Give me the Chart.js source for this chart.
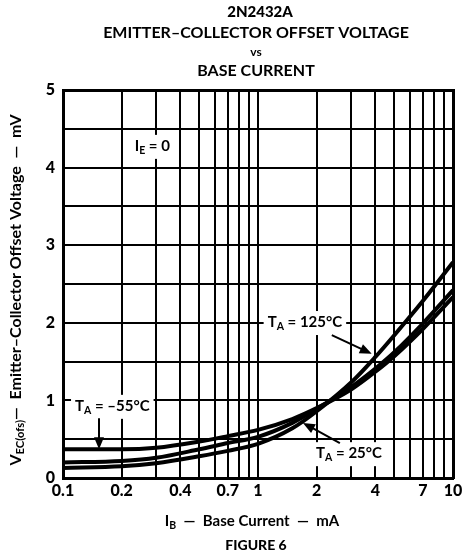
<!DOCTYPE html>
<html>
<head>
<meta charset="utf-8">
<script src="https://cdn.jsdelivr.net/npm/chart.js@4.4.0/dist/chart.umd.min.js"></script>
<style>
  html, body { margin: 0; padding: 0; background: #fff; }
  #wrap { width: 469px; height: 559px; position: relative; }
</style>
</head>
<body>
<div id="wrap"><canvas id="offset"></canvas></div>
<script>
// base current, mA
const currents = [0.1, 0.2, 0.3, 0.5, 0.7, 1, 1.5, 2, 3, 4, 5, 7, 10];
// offset voltage, mV
const vMinus55 = [0.37, 0.37, 0.39, 0.47, 0.54, 0.62, 0.76, 0.90, 1.14, 1.37, 1.57, 1.92, 2.33];
const v25      = [0.20, 0.22, 0.26, 0.37, 0.45, 0.53, 0.71, 0.89, 1.17, 1.41, 1.62, 1.99, 2.42];
const v125     = [0.13, 0.15, 0.19, 0.28, 0.35, 0.44, 0.64, 0.86, 1.23, 1.56, 1.84, 2.28, 2.78];

const xGrid   = [0.1, 0.2, 0.3, 0.4, 0.5, 0.6, 0.7, 0.8, 0.9, 1, 2, 3, 4, 5, 6, 7, 8, 9, 10];
const xLabels = [0.1, 0.2, 0.4, 0.7, 1, 2, 4, 7, 10];
const yGrid   = [0, 0.5, 1, 1.5, 2, 2.5, 3, 3.5, 4, 4.5, 5];
const yLabels = [0, 1, 2, 3, 4, 5];

const FONT = "Lato, 'DejaVu Sans', sans-serif";

// text notes: [parts, x, y] ; parts: [text, isSubscript]
const notes = [
  [[["I", 0], ["E", 1], [" = 0", 0]], 0.287, 4.28],
  [[["T", 0], ["A", 1], [" = \u201355\u00b0C", 0]], 0.179, 0.93],
  [[["T", 0], ["A", 1], [" = 125\u00b0C", 0]], 1.74, 2.01],
  [[["T", 0], ["A", 1], [" = 25\u00b0C", 0]], 2.93, 0.32]
];
// arrows: [x1, y1, x2, y2] tip at x2,y2
const arrows = [
  [0.153, 0.77, 0.153, 0.37],
  [2.39, 1.84, 3.83, 1.60],
  [2.63, 0.45, 1.70, 0.71]
];

function partsWidth(ctx, parts, size) {
  let w = 0;
  parts.forEach(p => {
    ctx.font = "bold " + (p[1] ? size * 0.7 : size) + "px " + FONT;
    w += ctx.measureText(p[0]).width;
  });
  return w;
}
function drawParts(ctx, parts, cx, cy, size) {
  const w = partsWidth(ctx, parts, size);
  let x = cx - w / 2;
  ctx.textBaseline = "middle";
  ctx.textAlign = "left";
  parts.forEach(p => {
    ctx.font = "bold " + (p[1] ? size * 0.7 : size) + "px " + FONT;
    ctx.fillText(p[0], x, p[1] ? cy + size * 0.3 : cy);
    x += ctx.measureText(p[0]).width;
  });
  return w;
}

const decor = {
  id: "decor",
  afterDatasetsDraw(chart) {
    const ctx = chart.ctx;
    const xs = chart.scales.x, ys = chart.scales.y;
    ctx.save();
    ctx.fillStyle = "#000";
    ctx.strokeStyle = "#000";
    // notes with white boxes
    notes.forEach(n => {
      const cx = xs.getPixelForValue(n[1]), cy = ys.getPixelForValue(n[2]);
      const w = partsWidth(ctx, n[0], 15);
      ctx.fillStyle = "#fff";
      ctx.fillRect(cx - w / 2 - 4, cy - 11, w + 8, 24);
      ctx.fillStyle = "#000";
      drawParts(ctx, n[0], cx, cy, 15);
    });
    // arrows
    arrows.forEach(a => {
      const x1 = xs.getPixelForValue(a[0]), y1 = ys.getPixelForValue(a[1]);
      const x2 = xs.getPixelForValue(a[2]), y2 = ys.getPixelForValue(a[3]);
      const ang = Math.atan2(y2 - y1, x2 - x1);
      ctx.lineWidth = 2;
      ctx.beginPath();
      ctx.moveTo(x1, y1);
      ctx.lineTo(x2 - 8 * Math.cos(ang), y2 - 8 * Math.sin(ang));
      ctx.stroke();
      ctx.beginPath();
      ctx.moveTo(x2, y2);
      ctx.lineTo(x2 - 12 * Math.cos(ang) + 5 * Math.sin(ang), y2 - 12 * Math.sin(ang) - 5 * Math.cos(ang));
      ctx.lineTo(x2 - 12 * Math.cos(ang) - 5 * Math.sin(ang), y2 - 12 * Math.sin(ang) + 5 * Math.cos(ang));
      ctx.closePath();
      ctx.fill();
    });
    // titles
    ctx.textAlign = "center";
    ctx.textBaseline = "middle";
    ctx.font = "900 15px " + FONT;
    ctx.fillText("2N2432A", 260, 12);
    ctx.font = "bold 16px " + FONT;
    ctx.fillText("EMITTER\u2013COLLECTOR OFFSET VOLTAGE", 256, 33);
    ctx.font = "bold 12px " + FONT;
    ctx.fillText("vs", 256, 52);
    ctx.font = "bold 16px " + FONT;
    ctx.fillText("BASE CURRENT", 256, 71);
    // x title
    drawParts(ctx, [["I", 0], ["B", 1], ["  \u2014  Base Current  \u2014  mA", 0]], 252, 521, 15);
    ctx.font = "900 14px " + FONT;
    ctx.textAlign = "center";
    ctx.fillText("FIGURE 6", 256, 545);
    // y title
    ctx.translate(16, 290);
    ctx.rotate(-Math.PI / 2);
    drawParts(ctx, [["V", 0], ["EC(ofs)", 1], ["\u2014  Emitter\u2013Collector Offset Voltage  \u2014  mV", 0]], 0, 0, 16);
    ctx.restore();
  }
};

function series(vals) {
  return {
    data: currents.map((c, i) => ({ x: c, y: vals[i] })),
    borderColor: "#000",
    borderWidth: 4,
    pointRadius: 0,
    showLine: true,
    fill: false,
    cubicInterpolationMode: "monotone"
  };
}

new Chart("offset", {
  type: "scatter",
  data: {
    datasets: [series(vMinus55), series(v25), series(v125)]
  },
  options: {
    responsive: true,
    maintainAspectRatio: false,
    animation: false,
    layout: { padding: { top: 90, right: 16, left: 0, bottom: 0 } },
    plugins: { legend: { display: false }, tooltip: { enabled: false } },
    scales: {
      x: {
        type: "logarithmic",
        min: 0.1,
        max: 10,
        afterBuildTicks: s => { s.ticks = xGrid.map(v => ({ value: v })); },
        afterFit: s => { s.height = 81; },
        ticks: {
          autoSkip: false,
          maxRotation: 0,
          color: "#000",
          font: { family: FONT, size: 16, weight: "900" },
          padding: 3,
          callback: v => xLabels.includes(v) ? String(v) : ""
        },
        grid: { color: "#000", lineWidth: 2, drawTicks: false },
        border: { color: "#000", width: 3 }
      },
      y: {
        min: 0,
        max: 5,
        afterBuildTicks: s => { s.ticks = yGrid.map(v => ({ value: v })); },
        afterFit: s => { s.width = 63; },
        ticks: {
          autoSkip: false,
          color: "#000",
          font: { family: FONT, size: 16, weight: "900" },
          padding: 8,
          callback: v => yLabels.includes(v) ? String(v) : ""
        },
        grid: { color: "#000", lineWidth: 2, drawTicks: false },
        border: { color: "#000", width: 3 }
      },
      x2: {
        type: "linear", position: "top", display: true,
        ticks: { display: false }, grid: { display: false },
        border: { color: "#000", width: 3 },
        afterFit: s => { s.height = 0; }
      },
      y2: {
        type: "linear", position: "right", display: true,
        ticks: { display: false }, grid: { display: false },
        border: { color: "#000", width: 3 },
        afterFit: s => { s.width = 0; }
      }
    }
  },
  plugins: [decor]
});
</script>
</body>
</html>
